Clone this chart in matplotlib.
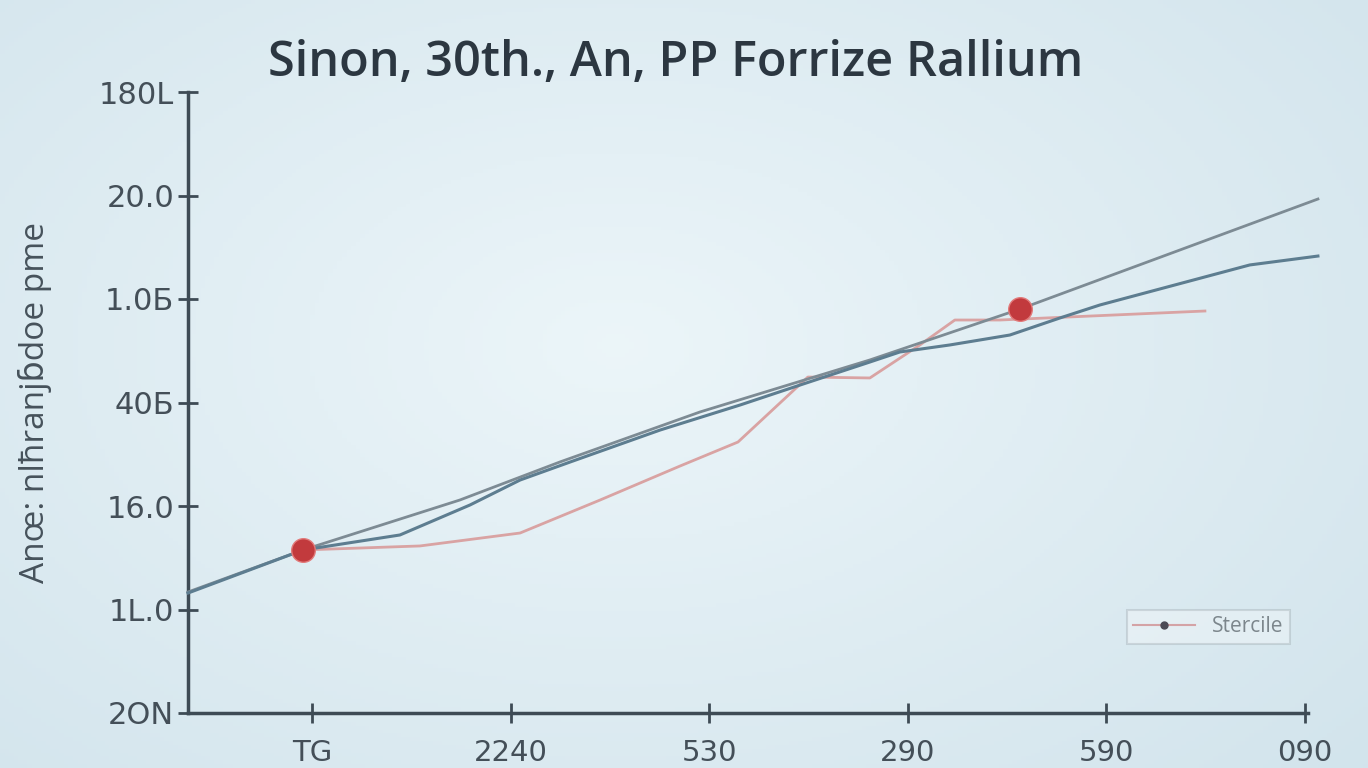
import numpy as np
import matplotlib.pyplot as plt
from matplotlib.lines import Line2D

# chart values (tick units: x ticks at 1..6, y ticks at 0..6)
x_tick_pos = [1, 2, 3, 4, 5, 6]
x_tick_labels = ['TG', '2240', '530', '290', '590', '090']
y_tick_pos = [0, 1, 2, 3, 4, 5, 6]
y_tick_labels = ['2ON', '1L.0', '16.0', '40Б', '1.0Б', '20.0', '180L']

gray_x = [0.376, 0.955, 1.745, 2.248, 2.953, 3.809, 4.565, 6.065]
gray_y = [1.169, 1.575, 2.058, 2.425, 2.908, 3.411, 3.903, 4.966]

blue_x = [0.376, 0.955, 1.443, 1.796, 2.048, 2.300, 2.753, 3.156, 3.458,
          3.809, 3.960, 4.212, 4.514, 4.765, 4.967, 5.722, 6.065]
blue_y = [1.159, 1.575, 1.720, 2.010, 2.251, 2.425, 2.734, 2.976, 3.169,
          3.391, 3.488, 3.556, 3.652, 3.816, 3.942, 4.329, 4.415]

pink_x = [0.955, 1.544, 2.048, 2.451, 2.853, 3.145, 3.497, 3.809, 4.061,
          4.237, 4.464, 5.496]
pink_y = [1.575, 1.614, 1.739, 2.058, 2.386, 2.618, 3.246, 3.237, 3.556,
          3.797, 3.797, 3.884]

dot_x = [0.955, 4.565]
dot_y = [1.575, 3.903]

title = 'Sinon, 30th., An, PP Forrize Rallium'
ylabel = 'Anœ: nlħranjɓdoe pme'
legend_label = 'Stercile'

plt.rcParams['font.family'] = ['Open Sans', 'DejaVu Sans']

fig = plt.figure(figsize=(13.68, 7.68), dpi=100)

# soft light-blue background
bg = fig.add_axes([0, 0, 1, 1])
gx, gy = np.meshgrid(np.linspace(0, 1, 300), np.linspace(0, 1, 200))
d = np.sqrt(((gx - 0.45) / 0.8) ** 2 + ((gy - 0.45) / 0.9) ** 2)
c_in = np.array([0.925, 0.962, 0.976])
c_out = np.array([0.815, 0.888, 0.922])
t = np.clip(d, 0, 1)[..., None]
img = c_in * (1 - t) + c_out * t
bg.imshow(img, extent=[0, 1, 0, 1], aspect='auto', origin='upper')
bg.axis('off')

ax = fig.add_axes([188 / 1368, 55 / 768, 1120 / 1368, 621 / 768])
ax.patch.set_alpha(0)

ax.plot(gray_x, gray_y, color='#7d8b94', lw=2, clip_on=False, zorder=3)
ax.plot(blue_x, blue_y, color='#5d7d90', lw=2.2, clip_on=False, zorder=3)
ax.plot(pink_x, pink_y, color='#d9a3a3', lw=2, clip_on=False, zorder=2)
ax.plot(dot_x, dot_y, 'o', color='#c23a3d', ms=17, mec='#e27a7a', mew=1,
        zorder=5, clip_on=False)

ax.set_xlim(0.376, 6.015)
ax.set_ylim(0, 6)
ax.set_xticks(x_tick_pos)
ax.set_xticklabels(x_tick_labels, family=['DejaVu Sans'])
ax.set_yticks(y_tick_pos)
ax.set_yticklabels(y_tick_labels, family=['DejaVu Sans'])

for s in ['top', 'right']:
    ax.spines[s].set_visible(False)
for s in ['left', 'bottom']:
    ax.spines[s].set_color('#3e4b55')
    ax.spines[s].set_linewidth(2.5)

ax.tick_params(axis='both', direction='inout', length=14, width=2,
               color='#3e4b55', labelcolor='#444f58')
ax.tick_params(axis='x', pad=12, labelsize=21)
ax.tick_params(axis='y', pad=3, labelsize=22)

ax.set_ylabel(ylabel, fontsize=24, color='#46525b', labelpad=34,
              fontweight='medium')
fig.text(676 / 1368, 705 / 768, title, ha='center', va='center',
         fontsize=35, color='#2c3741', fontweight='semibold',
         family=['Open Sans', 'DejaVu Sans'])

handle = Line2D([], [], color='#d4a3a6', lw=1.5, marker='o', ms=5,
                mfc='#4a4a55', mec='#4a4a55')
leg = ax.legend([handle], [legend_label], loc='lower right',
                bbox_to_anchor=(0.993, 0.095), fontsize=15, frameon=True,
                fancybox=False, edgecolor='#8e989e', framealpha=0.3,
                handlelength=3, borderpad=0.3)
leg.get_frame().set_linewidth(1.5)
for txt in leg.get_texts():
    txt.set_color('#7c868c')

fig.savefig('out.png', dpi=100)
